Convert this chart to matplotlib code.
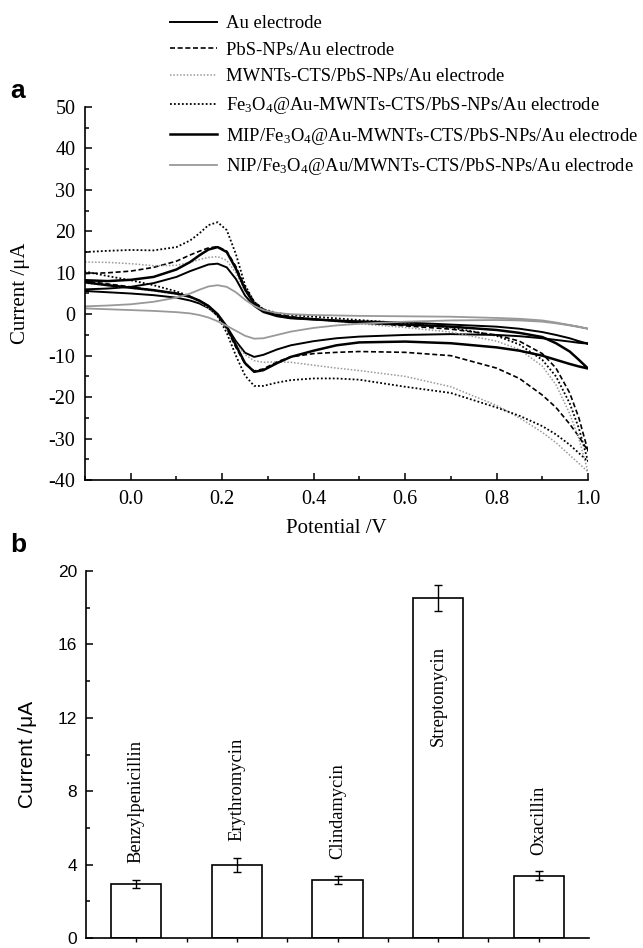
import numpy as np
import matplotlib
matplotlib.use("Agg")
import matplotlib.pyplot as plt
from matplotlib.ticker import MultipleLocator

plt.rcParams['axes.unicode_minus'] = False
plt.rcParams['mathtext.fontset'] = 'custom'
plt.rcParams['mathtext.rm'] = 'Liberation Serif'
plt.rcParams['mathtext.it'] = 'Liberation Serif:italic'
SERIF = 'Liberation Serif'
SANS = 'Liberation Sans'

# ---------------- Panel a data (cyclic voltammograms) ----------------
potential = [-0.1, -0.05, 0.0, 0.05, 0.1, 0.13, 0.15, 0.17, 0.19, 0.21, 0.23, 0.25,
             0.27, 0.29, 0.32, 0.35, 0.4, 0.45, 0.5, 0.6, 0.7, 0.8, 0.85, 0.9,
             0.93, 0.96, 0.98, 1.0]

au_upper = [6.0, 6.2, 6.6, 7.5, 9.0, 10.4, 11.2, 12.0, 12.2, 11.3, 8.5, 4.5,
            2.0, 0.5, -0.5, -1.0, -1.3, -1.5, -1.7, -2.0, -2.5, -3.0, -3.5, -4.3,
            -5.0, -5.8, -6.5, -7.1]
au_lower = [5.6, 5.3, 5.0, 4.6, 4.0, 3.3, 2.6, 1.5, -0.3, -3.0, -6.5, -9.3,
            -10.3, -9.8, -8.5, -7.5, -6.5, -5.8, -5.4, -5.0, -4.8, -5.0, -5.3, -5.8,
            -6.2, -6.6, -6.9, -7.1]

pbs_upper = [9.8, 10.0, 10.4, 11.3, 12.8, 14.3, 15.2, 16.0, 16.3, 15.2, 11.5, 6.5,
             3.0, 1.2, 0.0, -0.6, -1.2, -1.6, -2.0, -2.8, -3.6, -5.0, -6.5, -9.5,
             -13.0, -19.0, -25.0, -33.0]
pbs_lower = [8.0, 7.3, 6.6, 5.8, 5.0, 4.2, 3.2, 1.8, -0.3, -3.5, -8.0, -12.0,
             -13.7, -13.2, -11.5, -10.3, -9.5, -9.2, -9.0, -9.2, -10.0, -13.0, -15.5, -19.5,
             -22.5, -26.5, -29.5, -33.0]

mwnt_upper = [12.6, 12.5, 12.2, 11.7, 11.8, 12.5, 13.2, 13.7, 13.9, 13.0, 10.0, 5.5,
              2.5, 1.0, -0.2, -0.8, -1.3, -1.8, -2.3, -3.2, -4.3, -6.5, -8.5, -12.5,
              -17.0, -24.0, -30.0, -38.0]
mwnt_lower = [7.5, 6.9, 6.3, 5.6, 4.8, 4.0, 3.0, 1.5, -0.5, -3.5, -7.0, -9.8,
              -11.2, -11.6, -11.5, -11.6, -12.3, -13.0, -13.6, -15.0, -17.5, -22.0, -25.0, -28.5,
              -31.0, -34.0, -36.0, -38.0]

fe_upper = [15.0, 15.3, 15.5, 15.4, 16.2, 17.8, 19.5, 21.5, 22.2, 20.3, 14.5, 7.0,
            3.0, 1.2, 0.3, -0.2, -0.6, -1.0, -1.4, -2.2, -3.2, -5.2, -7.3, -11.0,
            -15.0, -21.5, -27.5, -35.5]
fe_lower = [10.3, 9.2, 8.2, 7.0, 5.5, 4.3, 3.2, 2.0, -0.5, -4.5, -10.0, -14.8,
            -17.3, -17.3, -16.5, -15.9, -15.5, -15.5, -15.8, -17.5, -19.0, -22.5, -24.5, -27.0,
            -29.0, -31.5, -33.5, -35.5]

mip_upper = [8.2, 8.0, 8.3, 9.0, 10.8, 12.6, 14.2, 15.6, 16.2, 15.0, 11.0, 6.0,
             2.5, 0.8, -0.3, -0.8, -1.2, -1.6, -2.0, -2.5, -3.0, -3.8, -4.5, -5.5,
             -7.0, -9.0, -11.0, -13.1]
mip_lower = [7.7, 7.0, 6.4, 5.8, 5.0, 4.2, 3.3, 2.0, 0.0, -3.0, -7.5, -11.8,
             -13.9, -13.5, -11.8, -10.3, -8.8, -7.5, -6.8, -6.6, -7.0, -8.0, -8.8, -10.0,
             -11.0, -12.0, -12.6, -13.1]

nip_upper = [1.9, 2.1, 2.4, 3.0, 4.0, 5.0, 5.9, 6.7, 7.0, 6.6, 5.3, 3.5,
             2.0, 1.0, 0.3, 0.0, -0.2, -0.3, -0.4, -0.5, -0.6, -0.9, -1.1, -1.5,
             -2.0, -2.6, -3.0, -3.5]
nip_lower = [1.4, 1.2, 1.0, 0.8, 0.5, 0.2, -0.2, -0.8, -1.7, -2.8, -4.0, -5.2,
             -5.9, -5.8, -5.0, -4.2, -3.3, -2.7, -2.3, -1.8, -1.5, -1.4, -1.5, -1.8,
             -2.2, -2.7, -3.1, -3.5]

series_labels = [
    'Au electrode',
    'PbS-NPs/Au electrode',
    'MWNTs-CTS/PbS-NPs/Au electrode',
    'Fe$_3$O$_4$@Au-MWNTs-CTS/PbS-NPs/Au electrode',
    'MIP/Fe$_3$O$_4$@Au-MWNTs-CTS/PbS-NPs/Au electrode',
    'NIP/Fe$_3$O$_4$@Au/MWNTs-CTS/PbS-NPs/Au electrode',
]

# ---------------- Panel b data (bar chart) ----------------
analytes = ['Benzylpenicillin', 'Erythromycin', 'Clindamycin', 'Streptomycin', 'Oxacillin']
currents = [2.95, 3.98, 3.18, 18.53, 3.40]
errors = [0.21, 0.38, 0.22, 0.71, 0.23]

# ---------------- Figure ----------------
W, H = 643, 948
fig = plt.figure(figsize=(W / 100, H / 100), dpi=100)

ax1 = fig.add_axes([85 / W, 1 - 480 / H, 503 / W, 373 / H])
ax2 = fig.add_axes([86 / W, 1 - 938 / H, 503 / W, 367 / H])

V = np.array(potential)
styles = [
    dict(color='black', lw=1.4, ls='-'),
    dict(color='black', lw=1.2, ls=(0, (3, 1.6))),
    dict(color='0.6', lw=1.1, ls=(0, (1, 1.2))),
    dict(color='black', lw=1.3, ls=(0, (1, 1.2))),
    dict(color='black', lw=1.8, ls='-'),
    dict(color='0.6', lw=1.3, ls='-'),
]
curves = [(au_upper, au_lower), (pbs_upper, pbs_lower), (mwnt_upper, mwnt_lower),
          (fe_upper, fe_lower), (mip_upper, mip_lower), (nip_upper, nip_lower)]
handles = []
for (up, lo), st, lab in zip(curves, styles, series_labels):
    x = np.concatenate([V, V[::-1]])
    y = np.concatenate([np.array(up), np.array(lo)[::-1]])
    h, = ax1.plot(x, y, label=lab, **st)
    handles.append(h)

ax1.set_xlim(-0.1, 1.0)
ax1.set_ylim(-40, 50)
ax1.xaxis.set_major_locator(MultipleLocator(0.2))
ax1.xaxis.set_minor_locator(MultipleLocator(0.1))
ax1.yaxis.set_major_locator(MultipleLocator(10))
ax1.yaxis.set_minor_locator(MultipleLocator(5))
ax1.set_xticks([0.0, 0.2, 0.4, 0.6, 0.8, 1.0])
ax1.set_xticklabels(['0.0', '0.2', '0.4', '0.6', '0.8', '1.0'])
for s in ['top', 'right']:
    ax1.spines[s].set_visible(False)
for s in ['left', 'bottom']:
    ax1.spines[s].set_linewidth(1.2)
ax1.tick_params(which='both', direction='in', width=1.1)
ax1.tick_params(which='major', length=5, pad=7, labelsize=14.5)
ax1.tick_params(which='minor', length=3)
for t in ax1.get_xticklabels() + ax1.get_yticklabels():
    t.set_fontfamily(SERIF)
ax1.set_xlabel('Potential /V', fontsize=15, fontfamily=SERIF)
ax1.set_ylabel('Current /\u03bcA', fontsize=15, fontfamily=SERIF)
ax1.xaxis.label.set_va('center')
ax1.xaxis.set_label_coords(0.5, -0.129)
ax1.yaxis.label.set(va='center', ha='center')
ax1.yaxis.set_label_coords(-0.129, 0.5)

leg = fig.legend(handles=handles, loc='upper left',
                 bbox_to_anchor=(170 / W, 1 - 15 / H), frameon=False,
                 prop={'family': SERIF, 'size': 13.4}, borderpad=0, borderaxespad=0,
                 handlelength=2.5, handletextpad=0.5, labelspacing=0.52)

# Panel b
xpos = np.arange(1, len(analytes) + 1)
ax2.bar(xpos, currents, width=0.5, color='white', edgecolor='black', linewidth=1.2, zorder=2)
ax2.errorbar(xpos, currents, yerr=errors, fmt='none', ecolor='black', elinewidth=1.0,
             capsize=3, capthick=1.0, zorder=3)
ax2.set_xlim(0.5, 5.5)
ax2.set_ylim(0, 20)
ax2.yaxis.set_major_locator(MultipleLocator(4))
ax2.yaxis.set_minor_locator(MultipleLocator(2))
ax2.set_xticks(np.arange(1, 5.01, 0.5))
ax2.set_xticklabels([])
for s in ['top', 'right']:
    ax2.spines[s].set_visible(False)
for s in ['left', 'bottom']:
    ax2.spines[s].set_linewidth(1.2)
ax2.tick_params(axis='y', which='both', direction='in', width=1.1)
ax2.tick_params(axis='y', which='major', length=5, pad=6.5, labelsize=12.5)
ax2.tick_params(axis='y', which='minor', length=3)
ax2.tick_params(axis='x', which='major', direction='out', length=3, width=1.0)
for t in ax2.get_yticklabels():
    t.set_fontfamily(SANS)
ax2.set_ylabel('Current /\u03bcA', fontsize=15, fontfamily=SANS)
ax2.yaxis.label.set(va='center', ha='center')
ax2.yaxis.set_label_coords(-0.117, 0.5)

for xp, name, val, err in zip(xpos, analytes, currents, errors):
    if val > 10:
        ax2.text(xp, val - 2.6, name, rotation=90, ha='center', va='top',
                 fontsize=13.3, fontfamily=SERIF)
    else:
        ax2.text(xp, val + err + 0.9, name, rotation=90, ha='center', va='bottom',
                 fontsize=13.3, fontfamily=SERIF)

fig.text(10 / W, 1 - 91 / H, 'a', fontsize=19, fontweight='bold', fontfamily=SANS, va='center')
fig.text(10 / W, 1 - 545 / H, 'b', fontsize=19, fontweight='bold', fontfamily=SANS, va='center')

fig.savefig('out.png', dpi=100)
